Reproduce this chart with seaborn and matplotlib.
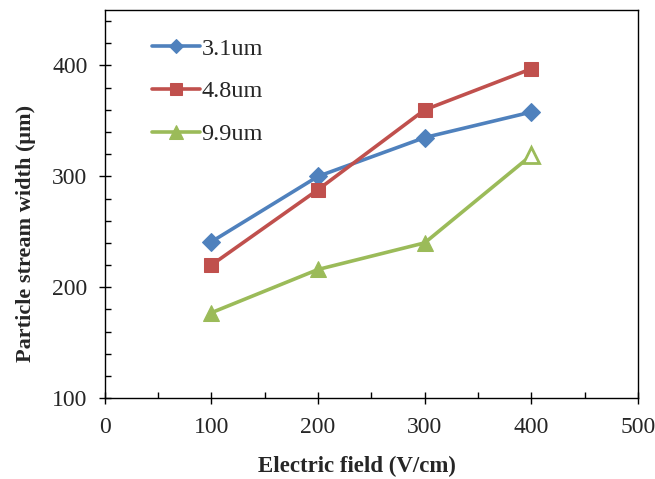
import numpy as np
import pandas as pd
import seaborn as sns
import matplotlib.pyplot as plt
from matplotlib.ticker import MultipleLocator

# data
field = [100, 200, 300, 400]
w31 = [241, 300, 335, 358]
w48 = [220, 288, 360, 397]
w99 = [177, 216, 240, 319]

names = ['3.1um', '4.8um', '9.9um']
colors = ['#4F81BD', '#C0504D', '#9BBB59']
marks = ['D', 's', '^']
msizes = [9, 10, 12]

sns.set_theme(style='white')
plt.rcParams['font.family'] = ['Liberation Serif', 'DejaVu Serif']

fig = plt.figure(figsize=(6.55, 4.79), dpi=100)
ax = fig.add_axes([0.160, 0.169, 0.814, 0.810])

for vals, name, c, m, ms in zip([w31, w48, w99], names, colors, marks, msizes):
    sns.lineplot(x=field, y=vals, color=c, marker=m, markersize=ms,
                 markeredgecolor=c, linewidth=2.6, label=name, ax=ax)

# last 9.9um point is drawn hollow in the original
ax.plot(field[-1], w99[-1], marker='^', markersize=12, markerfacecolor='white',
        markeredgecolor=colors[2], markeredgewidth=2, linestyle='none')

ax.set_xlim(0, 500)
ax.set_ylim(100, 450)
ax.xaxis.set_major_locator(MultipleLocator(100))
ax.xaxis.set_minor_locator(MultipleLocator(50))
ax.set_yticks([100, 200, 300, 400])
ax.yaxis.set_minor_locator(MultipleLocator(20))
ax.tick_params(which='major', direction='inout', length=9, width=1, color='black',
               labelsize=17, bottom=True, left=True)
ax.tick_params(axis='x', which='major', pad=9)
ax.tick_params(axis='y', which='major', pad=8)
ax.tick_params(which='minor', direction='in', length=4, width=1, color='black',
               bottom=True, left=True)
for s in ax.spines.values():
    s.set_color('black')
    s.set_linewidth(1)

ax.set_xlabel('Electric field (V/cm)', fontsize=16.5, fontweight='bold')
ax.set_ylabel('Particle stream width (μm)', fontsize=16, fontweight='bold')
ax.xaxis.set_label_coords(0.473, -0.148)
ax.yaxis.set_label_coords(-0.129, 0.423)

leg = ax.legend(loc='upper left', bbox_to_anchor=(0.047, 0.985), frameon=False,
                fontsize=17.5, handlelength=2.0, handletextpad=0.05,
                labelspacing=0.85, markerscale=0.8)

fig.savefig('out.png', dpi=100)
